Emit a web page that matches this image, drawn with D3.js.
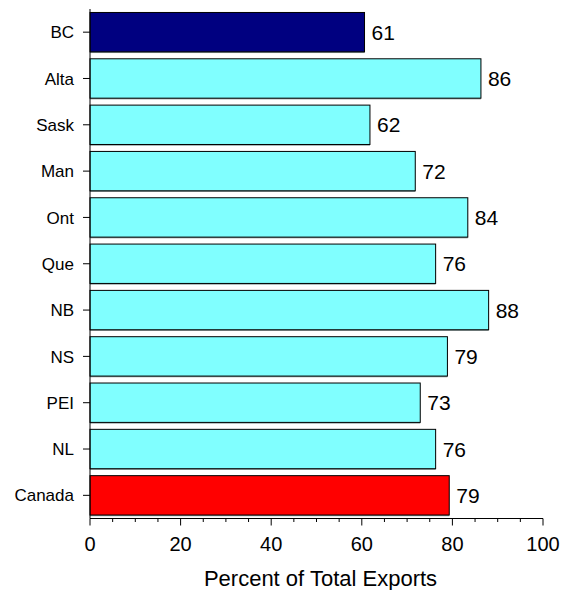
<!DOCTYPE html>
<html>
<head>
  <meta charset="utf-8">
  <style>
    body { margin: 0; background: #fff; font-family: "Liberation Sans", Arial, sans-serif; }
  </style>
  <script src="https://d3js.org/d3.v7.min.js"></script>
</head>
<body>
  <svg id="chart" width="561" height="590"></svg>
  <script>
    // data
    const provinces = ["BC", "Alta", "Sask", "Man", "Ont", "Que", "NB", "NS", "PEI", "NL", "Canada"];
    const percentValues = [60.6, 86.3, 61.8, 71.8, 83.4, 76.3, 88.0, 78.9, 72.9, 76.3, 79.3];
    const valueLabels = ["61", "86", "62", "72", "84", "76", "88", "79", "73", "76", "79"];
    const xTicks = [0, 20, 40, 60, 80, 100];
    const xTitle = "Percent of Total Exports";

    const svg = d3.select("#chart");
    const plotLeft = 90, plotRight = 543, plotTop = 9, plotBottom = 518.5;

    const x = d3.scaleLinear().domain([0, 100]).range([plotLeft, plotRight]);
    const y = d3.scaleBand().domain(provinces).range([plotTop, plotBottom])
      .paddingInner(0.15).paddingOuter(0.075);

    function barColor(name) {
      if (name === "BC") return "#000080";
      if (name === "Canada") return "#ff0000";
      return "#80ffff";
    }

    const rows = provinces.map((p, i) => ({ name: p, value: percentValues[i], label: valueLabels[i] }));

    // faint shadow line under each bar
    svg.append("g").selectAll("rect")
      .data(rows).enter().append("rect")
      .attr("x", x(0))
      .attr("y", d => y(d.name) + 1.2)
      .attr("width", d => x(d.value) - x(0))
      .attr("height", y.bandwidth())
      .attr("fill", "#8a9a9a");

    // bars
    svg.append("g").selectAll("rect")
      .data(rows).enter().append("rect")
      .attr("x", x(0))
      .attr("y", d => y(d.name))
      .attr("width", d => x(d.value) - x(0))
      .attr("height", y.bandwidth())
      .attr("fill", d => barColor(d.name))
      .attr("stroke", "#000")
      .attr("stroke-width", 1);

    // value labels
    svg.append("g").selectAll("text")
      .data(rows).enter().append("text")
      .attr("x", d => x(d.value) + 7)
      .attr("y", d => y(d.name) + y.bandwidth() / 2)
      .attr("dy", "0.36em")
      .style("font-size", "21px")
      .attr("fill", "#000")
      .text(d => d.label);

    // y axis
    const yAxis = svg.append("g");
    yAxis.append("line")
      .attr("x1", plotLeft).attr("x2", plotLeft)
      .attr("y1", plotTop).attr("y2", plotBottom)
      .attr("stroke", "#000");
    yAxis.selectAll(".tick").data(provinces).enter().append("line")
      .attr("x1", plotLeft - 7).attr("x2", plotLeft)
      .attr("y1", d => y(d) + y.bandwidth() / 2)
      .attr("y2", d => y(d) + y.bandwidth() / 2)
      .attr("stroke", "#000");
    yAxis.selectAll("text").data(provinces).enter().append("text")
      .attr("x", plotLeft - 16)
      .attr("y", d => y(d) + y.bandwidth() / 2)
      .attr("dy", "0.36em")
      .attr("text-anchor", "end")
      .style("font-size", "17px")
      .text(d => d);

    // x axis
    const xAxis = svg.append("g");
    xAxis.append("line")
      .attr("x1", plotLeft).attr("x2", plotRight)
      .attr("y1", plotBottom).attr("y2", plotBottom)
      .attr("stroke", "#000");
    xAxis.selectAll(".minor").data(d3.range(0, 101, 5)).enter().append("line")
      .attr("x1", d => x(d)).attr("x2", d => x(d))
      .attr("y1", plotBottom).attr("y2", d => plotBottom + (d % 20 === 0 ? 7 : 3.5))
      .attr("stroke", "#000");
    xAxis.selectAll("text").data(xTicks).enter().append("text")
      .attr("x", d => x(d))
      .attr("y", 551)
      .attr("text-anchor", "middle")
      .style("font-size", "20px")
      .text(d => d);

    svg.append("text")
      .attr("x", (plotLeft + plotRight) / 2 + 4)
      .attr("y", 586)
      .attr("text-anchor", "middle")
      .style("font-size", "22px")
      .text(xTitle);
  </script>
</body>
</html>
